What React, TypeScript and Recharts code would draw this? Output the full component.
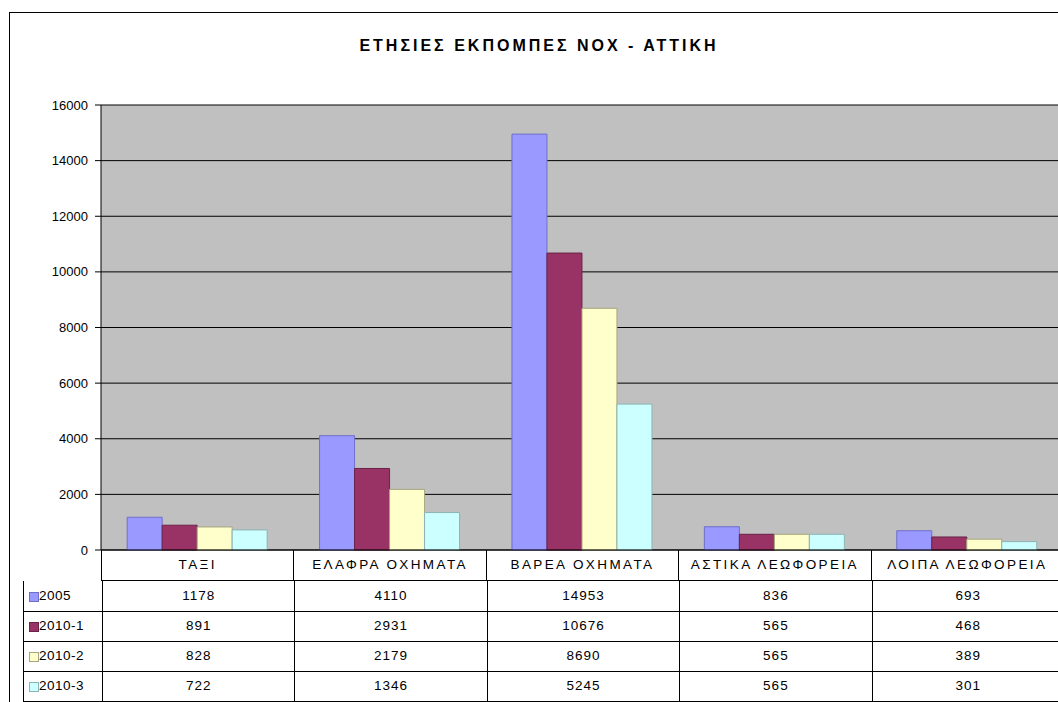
import React from 'react';
import { BarChart, Bar, XAxis, YAxis, CartesianGrid } from 'recharts';

const categories = ['ΤΑΞΙ', 'ΕΛΑΦΡΑ ΟΧΗΜΑΤΑ', 'ΒΑΡΕΑ ΟΧΗΜΑΤΑ', 'ΑΣΤΙΚΑ ΛΕΩΦΟΡΕΙΑ', 'ΛΟΙΠΑ ΛΕΩΦΟΡΕΙΑ'];
const seriesNames = ['2005', '2010-1', '2010-2', '2010-3'];
const values2005 = [1178, 4110, 14953, 836, 693];
const values2010a = [891, 2931, 10676, 565, 468];
const values2010b = [828, 2179, 8690, 565, 389];
const values2010c = [722, 1346, 5245, 565, 301];
const yTicks = [0, 2000, 4000, 6000, 8000, 10000, 12000, 14000, 16000];

const seriesValues = [values2005, values2010a, values2010b, values2010c];
const fills = ['#9999ff', '#993366', '#ffffcc', '#ccffff'];
const strokes = ['#6f6fc8', '#6a2246', '#a6a67e', '#8cb4b4'];

const data = categories.map((name, i) => ({
  name,
  s0: values2005[i],
  s1: values2010a[i],
  s2: values2010b[i],
  s3: values2010c[i],
}));

const FONT = '"Liberation Sans", Arial, sans-serif';
const PLOT_LEFT = 101;
const PLOT_TOP = 105;
const PLOT_BOTTOM = 550;
const PLOT_W = 962;
const COL_W = PLOT_W / categories.length;
const ROW_H = 30;

export default function App() {
  return (
    <div style={{ position: 'absolute', left: 0, top: 0, width: 1058, height: 702, overflow: 'hidden', background: '#fff', fontFamily: FONT }}>
      {/* outer chart frame */}
      <div style={{ position: 'absolute', left: 9, top: 12, width: 1100, height: 760, border: '1px solid #000' }} />

      <div style={{ position: 'absolute', left: 0, top: 37, width: 1078, textAlign: 'center', fontSize: 16, fontWeight: 'bold', letterSpacing: 3, color: '#000' }}>
        ΕΤΗΣΙΕΣ ΕΚΠΟΜΠΕΣ ΝΟΧ - ΑΤΤΙΚΗ
      </div>

      <div style={{ position: 'absolute', left: 0, top: 0 }}>
        <BarChart
          width={PLOT_LEFT + PLOT_W + 7}
          height={702}
          data={data}
          margin={{ top: PLOT_TOP, right: 7, bottom: 0, left: 0 }}
          barCategoryGap="13.6%"
          barGap={0}
        >
          <CartesianGrid vertical={false} stroke="#000" fill="#c0c0c0" />
          <XAxis dataKey="name" height={702 - PLOT_BOTTOM} tick={false} tickLine={false} axisLine={{ stroke: '#000' }} />
          <YAxis
            width={PLOT_LEFT}
            domain={[0, 16000]}
            ticks={yTicks}
            interval={0}
            tickSize={6}
            tickMargin={7}
            axisLine={{ stroke: '#000' }}
            tickLine={{ stroke: '#000' }}
            tick={{ fill: '#000', fontSize: 13, fontFamily: FONT }}
          />
          {seriesNames.map((s, k) => (
            <Bar key={s} dataKey={`s${k}`} name={s} fill={fills[k]} stroke={strokes[k]} strokeWidth={1} isAnimationActive={false} />
          ))}
        </BarChart>
      </div>

      {/* data table */}
      <div style={{ position: 'absolute', left: PLOT_LEFT, top: PLOT_BOTTOM, width: PLOT_W, height: ROW_H + 1, borderBottom: '1px solid #000', boxSizing: 'border-box' }}>
        {categories.map((c, i) => (
          <div key={c} style={{ position: 'absolute', left: i * COL_W, top: 0, width: COL_W, height: ROW_H + 1, borderLeft: '1px solid #000', boxSizing: 'border-box', textAlign: 'center', lineHeight: `${ROW_H}px`, fontSize: 13.5, letterSpacing: 2.4 }}>
            {c}
          </div>
        ))}
      </div>
      {seriesNames.map((s, k) => {
        const top = PLOT_BOTTOM + ROW_H + 1 + k * ROW_H;
        return (
          <div key={s} style={{ position: 'absolute', left: 23, top, width: PLOT_LEFT - 23 + PLOT_W, height: ROW_H + 1, borderBottom: '1px solid #000', borderLeft: '1px solid #000', boxSizing: 'border-box', fontSize: 13.5 }}>
            <div style={{ position: 'absolute', left: 5, top: 11, width: 8, height: 8, background: fills[k], border: `1px solid ${strokes[k]}` }} />
            <div style={{ position: 'absolute', left: 15, top: 0, lineHeight: `${ROW_H}px`, letterSpacing: 0.5 }}>{s}</div>
            {seriesValues[k].map((v, i) => (
              <div key={i} style={{ position: 'absolute', left: PLOT_LEFT - 23 + i * COL_W, top: 0, width: COL_W, height: ROW_H, borderLeft: '1px solid #000', boxSizing: 'border-box', textAlign: 'center', lineHeight: `${ROW_H}px`, letterSpacing: 1 }}>
                {v}
              </div>
            ))}
          </div>
        );
      })}
    </div>
  );
}
